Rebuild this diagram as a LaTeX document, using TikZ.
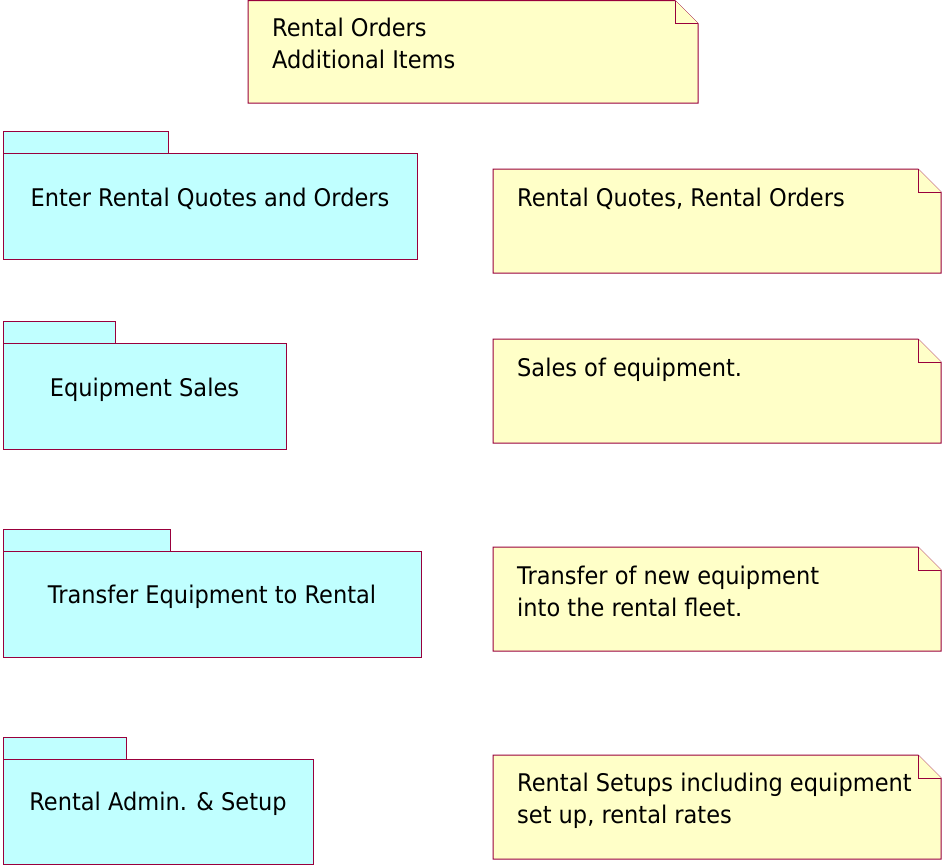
\documentclass[tikz,border=0pt]{standalone}
\usepackage{fontspec}
\setmainfont{DejaVu Sans}
\definecolor{bord}{RGB}{153,0,60}
\definecolor{pkgfill}{RGB}{192,255,255}
\definecolor{notefill}{RGB}{255,255,200}
\newcommand{\drawnote}[5]{%
  \draw[notestyle] (#1,#2) -- (#3-23,#2) -- (#3,#2+23) -- (#3,#4) -- (#1,#4) -- cycle;
  \draw[notestyle] (#3-23,#2) -- (#3-23,#2+23) -- (#3,#2+23);
  \coordinate (#5) at (#1,#2);}
\newcommand{\drawpkg}[6]{%
  \draw[pkgstyle] (#1,#2) rectangle (#3,#2+22);
  \draw[pkgstyle] (#1,#2+22) rectangle (#4,#5);
  \coordinate (#6) at (#1,#2+22);}
\newcommand{\tx}[1]{\scalebox{1}[1.08]{#1}}
\tikzset{
  notestyle/.style={draw=bord, fill=notefill, line width=1pt},
  pkgstyle/.style={draw=bord, fill=pkgfill, line width=1pt},
  lbl/.style={inner sep=0pt, font=\fontsize{22.5}{32}\selectfont, text=black},
}
\begin{document}
\begin{tikzpicture}[x=1pt,y=-1pt]
\useasboundingbox (0,0) rectangle (942,865);
% top note
\drawnote{248}{0.5}{698}{103}{n0}
\node[lbl, anchor=base west] (t0a) at (272,36) {\tx{Rental Orders}};
\node[lbl, anchor=base west] (t0b) at (272,68) {\tx{Additional Items}};
% packages
\drawpkg{3}{131}{168}{417}{259}{p1}
\node[lbl, anchor=base] (tp1) at (210,206) {\tx{Enter Rental Quotes and Orders}};
\drawpkg{3}{321}{115}{286}{449}{p2}
\node[lbl, anchor=base] (tp2) at (144.5,396) {\tx{Equipment Sales}};
\drawpkg{3}{529}{170}{421}{657}{p3}
\node[lbl, anchor=base] (tp3) at (212,603) {\tx{Transfer Equipment to Rental}};
\drawpkg{3}{737}{126}{313}{864}{p4}
\node[lbl, anchor=base] (tp4) at (158,810) {\tx{Rental Admin. \& Setup}};
% notes
\drawnote{493}{169}{941}{273}{n1}
\node[lbl, anchor=base west] (tn1) at (517,206) {\tx{Rental Quotes, Rental Orders}};
\drawnote{493}{339}{941}{443}{n2}
\node[lbl, anchor=base west] (tn2) at (517,376) {\tx{Sales of equipment.}};
\drawnote{493}{547}{941}{651}{n3}
\node[lbl, anchor=base west] (tn3a) at (517,584) {\tx{Transfer of new equipment}};
\node[lbl, anchor=base west] (tn3b) at (517,616) {\tx{into the rental fleet.}};
\drawnote{493}{755}{941}{859}{n4}
\node[lbl, anchor=base west] (tn4a) at (517,791) {\tx{Rental Setups including equipment}};
\node[lbl, anchor=base west] (tn4b) at (517,823) {\tx{set up, rental rates}};
\end{tikzpicture}
\end{document}
